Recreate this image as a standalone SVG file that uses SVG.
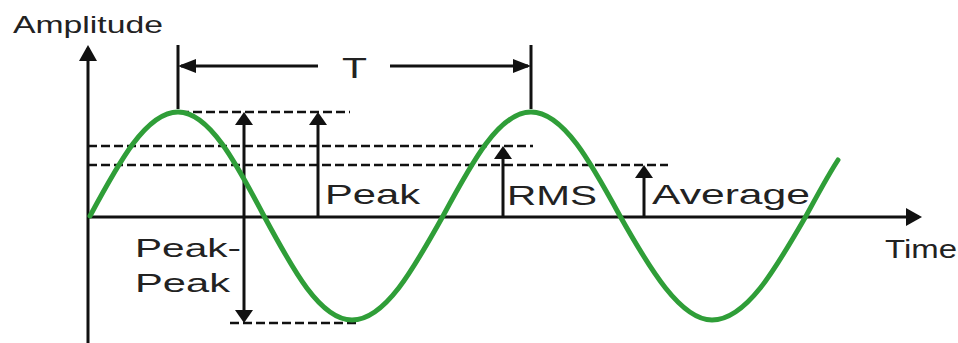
<svg xmlns="http://www.w3.org/2000/svg" width="958" height="343" viewBox="0 0 958 343">
<style>
.ax{stroke:#111;stroke-width:3;fill:none}
.dash{stroke:#111;stroke-width:2.5;stroke-dasharray:9 4;fill:none}
.lbl{font-family:"Liberation Sans",Arial,sans-serif;fill:#222}
.wave{stroke:#2f9e38;stroke-width:5;fill:none;stroke-linecap:round}
</style>
<defs>
<marker id="ah" markerUnits="userSpaceOnUse" markerWidth="13" markerHeight="18" refX="10" refY="9" orient="auto-start-reverse" viewBox="0 0 13 18"><path d="M0,0 L13,9 L0,18 z" fill="#111"/></marker>
<marker id="ahT" markerUnits="userSpaceOnUse" markerWidth="18" markerHeight="14" refX="15" refY="7" orient="auto" viewBox="0 0 18 14"><path d="M0,0 L18,7 L0,14 z" fill="#111"/></marker>
<marker id="ahX" markerUnits="userSpaceOnUse" markerWidth="16" markerHeight="20" refX="13" refY="10" orient="auto" viewBox="0 0 16 20"><path d="M0,1 L16,10 L0,19 z" fill="#111"/></marker>
</defs>
<rect width="958" height="343" fill="#fff"/>
<g id="connectors">
<line id="y-axis" class="ax" x1="88" y1="343" x2="88" y2="48" marker-end="url(#ahX)"/>
<line id="x-axis" class="ax" x1="88" y1="217" x2="919" y2="217" marker-end="url(#ahX)"/>
<line class="ax" x1="178" y1="45" x2="178" y2="109"/>
<line class="ax" x1="531" y1="45" x2="531" y2="109"/>
<line class="ax" x1="318" y1="66" x2="181" y2="66" marker-end="url(#ahT)"/>
<line class="ax" x1="390" y1="66" x2="528" y2="66" marker-end="url(#ahT)"/>
<line class="dash" x1="180" y1="112" x2="350" y2="112"/>
<line class="dash" x1="88" y1="146" x2="533" y2="146"/>
<line class="dash" x1="88" y1="165" x2="668" y2="165"/>
<line class="dash" x1="230" y1="323" x2="356" y2="323"/>
<line class="ax" x1="244" y1="115" x2="244" y2="320" marker-start="url(#ah)" marker-end="url(#ah)"/>
<line class="ax" x1="318" y1="217" x2="318" y2="115" marker-end="url(#ah)"/>
<line class="ax" x1="503" y1="217" x2="503" y2="149" marker-end="url(#ah)"/>
<line class="ax" x1="644" y1="217" x2="644" y2="168" marker-end="url(#ah)"/>
</g>
<g id="wave">
<path class="wave" d="M90,216 C118.7,162.7 146.1,112 178,112 C209.1,112 236,162.7 264,216 C292.7,269.3 320.1,320 352,320 C384.9,320 413.3,269.3 443,216 C471.7,162.7 499.1,112 531,112 C563.2,112 591,162.7 620,216 C650,269.3 680.7,320 712,320 C746,320 775.4,269.3 806,216 C816.7,196.6 827.3,176.4 838,160"/>
</g>
<g id="label-amplitude"><text class="lbl" x="13" y="33" font-size="24" textLength="150" lengthAdjust="spacingAndGlyphs">Amplitude</text></g>
<g id="label-T"><text class="lbl" x="342" y="78" font-size="29" textLength="25" lengthAdjust="spacingAndGlyphs">T</text></g>
<g id="label-peak"><text class="lbl" x="325" y="204" font-size="28" textLength="95" lengthAdjust="spacingAndGlyphs">Peak</text></g>
<g id="label-rms"><text class="lbl" x="507" y="205" font-size="28" textLength="90" lengthAdjust="spacingAndGlyphs">RMS</text></g>
<g id="label-average"><text class="lbl" x="652" y="204" font-size="28" textLength="158" lengthAdjust="spacingAndGlyphs">Average</text></g>
<g id="label-peakpeak">
<text class="lbl" x="135" y="257" font-size="26" textLength="106" lengthAdjust="spacingAndGlyphs">Peak-</text>
<text class="lbl" x="135" y="292" font-size="26" textLength="95" lengthAdjust="spacingAndGlyphs">Peak</text>
</g>
<g id="label-time"><text class="lbl" x="885" y="258" font-size="25" textLength="72" lengthAdjust="spacingAndGlyphs">Time</text></g>
</svg>
